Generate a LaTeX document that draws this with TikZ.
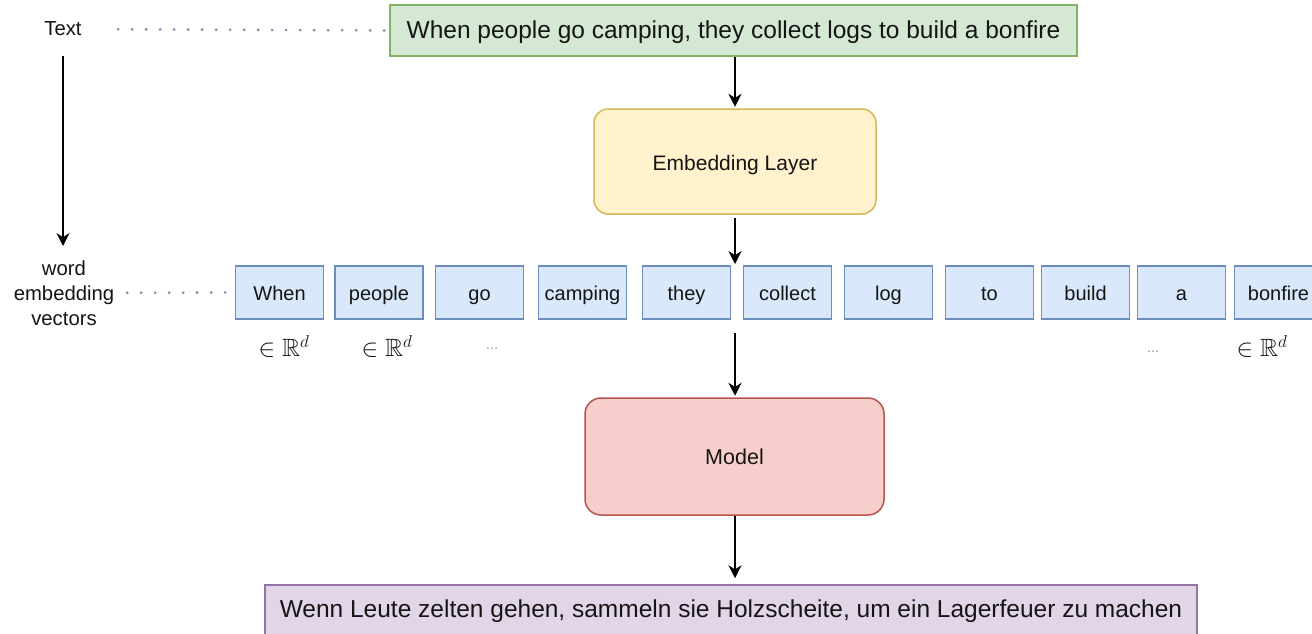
\documentclass[tikz,border=0pt]{standalone}
\usepackage{amssymb}
\usepackage{fontspec}
\setmainfont{Liberation Sans}
\usetikzlibrary{arrows.meta}
\definecolor{greenfill}{HTML}{D5E8D4}
\definecolor{greenline}{HTML}{82B366}
\definecolor{yelfill}{HTML}{FFF2CC}
\definecolor{yelline}{HTML}{D6B656}
\definecolor{wordfill}{HTML}{DAE8FC}
\definecolor{wordline}{HTML}{6C8EBF}
\definecolor{redfill}{HTML}{F8CECC}
\definecolor{redline}{HTML}{B85450}
\definecolor{purpfill}{HTML}{E1D5E7}
\definecolor{purpline}{HTML}{9673A6}
\definecolor{dotcol}{HTML}{7F8FAA}
\definecolor{txtcol}{HTML}{151515}
\begin{document}
\begin{tikzpicture}[x=1pt,y=-1pt,
  box/.style={draw, line width=1.5pt, inner sep=0pt, align=center, text=txtcol},
  wordbox/.style={box, draw=wordline, fill=wordfill, minimum width=88pt, minimum height=53pt,
    font=\fontsize{20}{24}\selectfont, text height=19.5pt, text depth=4.2pt},
  conn/.style={line width=1.6pt, -{Stealth[length=13pt,width=13pt]}},
  dots/.style={draw=dotcol, line width=2.8pt, line cap=round, dash pattern=on 0.3pt off 13.7pt},
  lab/.style={font=\fontsize{20.3}{25}\selectfont, align=center, text=txtcol},
  mlab/.style={font=\fontsize{25}{28}\selectfont, text=txtcol},
  ell/.style={font=\fontsize{13}{16}\selectfont, text=gray}]
\useasboundingbox (0,0) rectangle (1312,634);
\clip (0,0) rectangle (1312,634);
\fill[white] (0,0) rectangle (1312,634);

% main boxes
\node[box, draw=greenline, fill=greenfill, minimum width=687pt, minimum height=51pt,
  font=\fontsize{24.5}{28}\selectfont, text height=21.7pt, text depth=5.2pt] (txt) at (733.5,30.5)
  {When people go camping, they collect logs to build a bonfire};
\node[box, rounded corners=14pt, draw=yelline, fill=yelfill, minimum width=282pt, minimum height=105pt,
  font=\fontsize{21}{24}\selectfont, text height=21.5pt, text depth=4.4pt] (emb) at (735,161.5) {Embedding Layer};
\node[box, rounded corners=16pt, draw=redline, fill=redfill, minimum width=299pt, minimum height=117pt,
  font=\fontsize{21.5}{24}\selectfont] (model) at (734.5,456.5) {Model};
\node[box, draw=purpline, fill=purpfill, minimum width=932pt, minimum height=52pt,
  font=\fontsize{24.5}{28}\selectfont] (out) at (731,611)
  {Wenn Leute zelten gehen, sammeln sie Holzscheite, um ein Lagerfeuer zu machen};

% word boxes
\node[wordbox] (w1) at (279.5,292.5) {When};
\node[wordbox] (w2) at (379,292.5) {people};
\node[wordbox] (w3) at (479.5,292.5) {go};
\node[wordbox] (w4) at (582.5,292.5) {camping};
\node[wordbox] (w5) at (686.5,292.5) {they};
\node[wordbox] (w6) at (787.5,292.5) {collect};
\node[wordbox] (w7) at (888.5,292.5) {log};
\node[wordbox] (w8) at (989.5,292.5) {to};
\node[wordbox] (w9) at (1085.5,292.5) {build};
\node[wordbox] (w10) at (1181.5,292.5) {a};
\node[wordbox] (w11) at (1278.5,292.5) {bonfire};

% dimension labels
\node[mlab] (r1) at (284,346) {$\in\mathbb{R}^d$};
\node[mlab] (r2) at (387,346) {$\in\mathbb{R}^d$};
\node[ell] (e1) at (492,349) {\ldots};
\node[ell] (e2) at (1153,352) {\ldots};
\node[mlab] (r3) at (1262,346) {$\in\mathbb{R}^d$};

% left labels
\node[lab] (textlab) at (63,29) {Text};
\node[lab] (wev) at (64,293) {word\\embedding\\vectors};

% row arrow end points
\coordinate (rowtop) at (735,264);
\coordinate (rowbot) at (735,333);

% connectors
\draw[conn, shorten >=1.5pt] (emb.north |- txt.south) -- (emb.north);
\draw[conn, shorten <=3pt] (emb.south) -- (rowtop);
\draw[conn, shorten >=1.5pt] (rowbot) -- (model.north -| rowbot);
\draw[conn, shorten >=6pt] (model.south -| rowbot) -- (out.north -| rowbot);
\draw[conn, shorten <=27pt, shorten >=47pt] (textlab.center) -- (textlab.center |- wev.center);

% dotted guides
\draw[dots, shorten <=55pt, shorten >=3pt] (textlab.center) -- (txt.west);
\draw[dots, shorten <=63pt, shorten >=4pt] (wev.center) -- (w1.west);
\end{tikzpicture}
\end{document}
